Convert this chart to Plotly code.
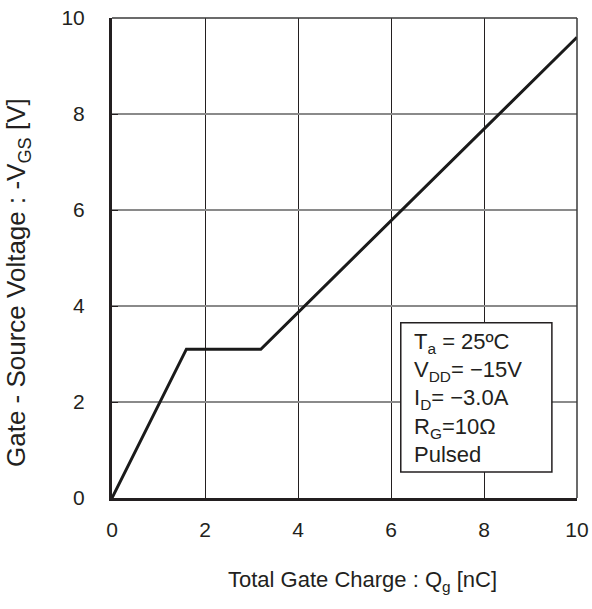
import plotly.graph_objects as go

# Data
qg = [0.0, 1.6, 3.2, 10.0]
vgs = [0.0, 3.1, 3.1, 9.6]
x_ticks = [0, 2, 4, 6, 8, 10]
y_ticks = [0, 2, 4, 6, 8, 10]
x_title = "Total Gate Charge : Q<sub>g</sub> [nC]"
y_title = "Gate - Source Voltage : -V<sub>GS</sub> [V]"
cond_lines = ["T<sub>a</sub> = 25ºC", "V<sub>DD</sub>= −15V", "I<sub>D</sub>= −3.0A",
              "R<sub>G</sub>=10Ω", "Pulsed"]
cond_y = [3.23, 2.65, 2.06, 1.46, 0.90]

FONT = "Liberation Sans, Arial, sans-serif"

fig = go.Figure()
fig.add_trace(go.Scatter(x=qg, y=vgs, mode="lines",
                         line=dict(color="#1a1a1a", width=3), showlegend=False,
                         cliponaxis=False))

fig.update_layout(
    width=592, height=609,
    margin=dict(l=112, r=15, t=18, b=111, autoexpand=False),
    paper_bgcolor="white", plot_bgcolor="white",
    font=dict(family=FONT, size=21, color="#231f20"),
    xaxis=dict(range=[0, 10], tickvals=x_ticks, showgrid=True, gridcolor="#231f20",
               gridwidth=1, zeroline=False, showline=True, linecolor="#231f20",
               linewidth=3, ticks="inside", ticklen=6, tickcolor="#231f20",
               ticklabelstandoff=11, tickfont=dict(size=21), automargin=False,
               ticklabeloverflow="allow"),
    yaxis=dict(range=[0, 10], tickvals=y_ticks, showgrid=True, gridcolor="#8a8a8a",
               gridwidth=1.5, zeroline=False, showline=True, linecolor="#231f20",
               linewidth=3, ticks="inside", ticklen=6, tickcolor="#231f20",
               ticklabelstandoff=20, tickfont=dict(size=21), automargin=False),
)

# axis titles as text (positioned as in reference)
fig.add_annotation(x=0.538, y=-0.173, xref="paper", yref="paper", text=x_title,
                   showarrow=False, xanchor="center", yanchor="middle",
                   font=dict(size=22, family=FONT))
fig.add_annotation(x=-0.202, y=0.448, xref="paper", yref="paper", text=y_title,
                   textangle=-90, showarrow=False, xanchor="center", yanchor="middle",
                   font=dict(size=26, family=FONT))

# top and right frame lines
fig.add_shape(type="line", xref="paper", yref="paper", x0=0, x1=1, y0=1, y1=1,
              line=dict(color="#3a3a3a", width=1.5))
fig.add_shape(type="line", xref="paper", yref="paper", x0=1, x1=1, y0=0, y1=1,
              line=dict(color="#3a3a3a", width=1.5))

# condition box
fig.add_shape(type="rect", xref="x", yref="y", x0=6.21, x1=9.46, y0=0.54, y1=3.65,
              fillcolor="white", line=dict(color="#231f20", width=1.5), layer="above")
for txt, yy in zip(cond_lines, cond_y):
    fig.add_annotation(x=6.45, y=yy, xref="x", yref="y", text=txt, showarrow=False,
                       xanchor="left", yanchor="middle", font=dict(size=22, family=FONT))

fig.write_html("out.html")
